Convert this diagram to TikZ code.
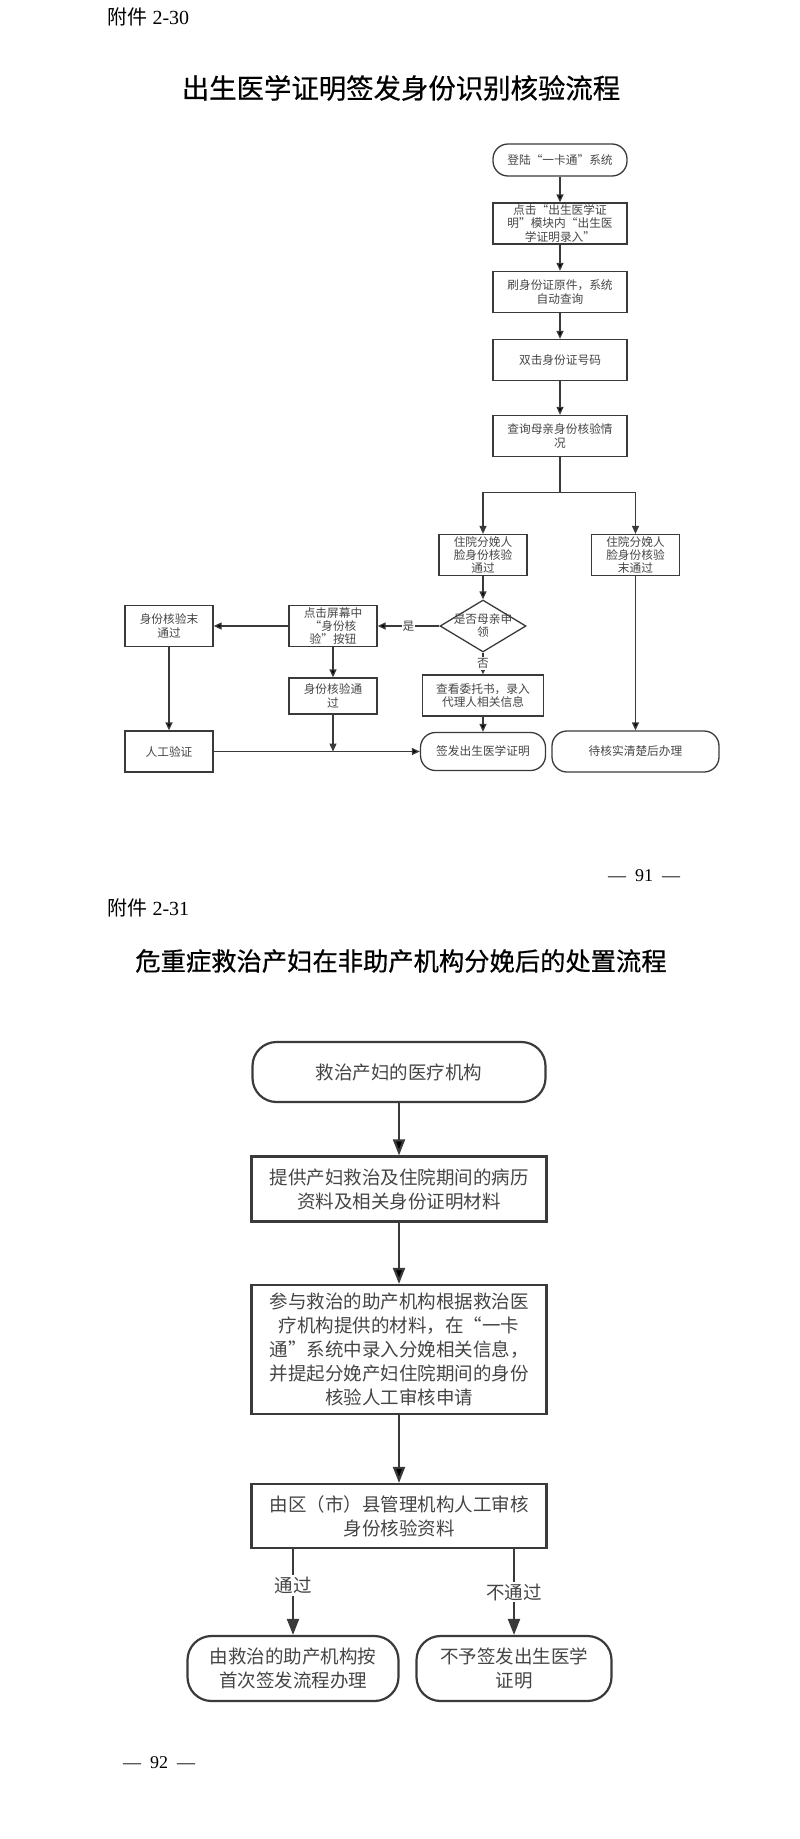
\documentclass[tikz,border=0pt]{standalone}
\usepackage{fontspec}
\setmainfont{Liberation Serif}
\newfontfamily\cjk{Noto Sans CJK SC}
\usetikzlibrary{arrows.meta,shapes.geometric}
\definecolor{linec}{HTML}{3A3A3A}
\definecolor{textc}{HTML}{454545}

\tikzset{
  box/.style={draw=linec, line width=1.3pt, rectangle, align=center, inner sep=1pt,
    text=textc, font=\cjk\fontsize{11.7}{13.3}\selectfont,
    minimum width=88pt, minimum height=41pt},
  pill/.style={box, rounded corners=15pt},
  ask/.style={box, diamond, inner sep=0pt, minimum width=86pt, minimum height=52pt},
  lbl/.style={fill=white, text=textc, inner sep=1pt, font=\cjk\fontsize{11.7}{13}\selectfont},
  flow/.style={draw=linec, line width=1.3pt, ->},
  bigbox/.style={draw=linec, line width=2.2pt, rectangle, align=center, inner sep=2pt,
    text=textc, font=\cjk\fontsize{18.5}{24}\selectfont,
    minimum width=295pt, minimum height=65pt},
  bigpill/.style={bigbox, rounded corners=24pt},
  biglbl/.style={fill=white, text=textc, inner sep=2pt, font=\cjk\fontsize{18.5}{22}\selectfont},
  bigflow/.style={draw=linec, line width=2.2pt, -{Triangle[length=16pt,width=12pt]}},
  heading/.style={font=\cjk\addfontfeature{FakeBold=0.6}\fontsize{#1}{#1}\selectfont},
  pageno/.style={font=\fontsize{18}{20}\selectfont},
}
\newcommand{\pagemark}[1]{—\hspace{9pt}#1\hspace{9pt}—}

\begin{document}
\begin{tikzpicture}[x=1pt, y=-1pt, >={Triangle[length=8pt,width=7pt]}, node distance=68pt]
  \useasboundingbox (0,0) rectangle (800,1839);

  % page 91
  \node[anchor=west, font=\fontsize{20}{22}\selectfont] (fj1) at (104,17) {{\cjk 附件} 2-30};
  \node[heading=27.4] (t1) at (401,88) {出生医学证明签发身份识别核验流程};

  \node[pill, minimum width=134pt, minimum height=32pt] (1) at (560,160) {登陆“一卡通”系统};
  \node[box, minimum width=134pt] (2) [below of=1, node distance=63.5pt] {点击“出生医学证\\明”模块内“出生医\\学证明录入”};
  \node[box, minimum width=134pt] (3) [below of=2, node distance=68.5pt] {刷身份证原件，系统\\自动查询};
  \node[box, minimum width=134pt] (4) [below of=3] {双击身份证号码};
  \node[box, minimum width=134pt] (5) [below of=4, node distance=76pt] {查询母亲身份核验情\\况};

  \node[box] (6) at (483,555) {住院分娩人\\脸身份核验\\通过};
  \node[box] (7) at (635.5,555) {住院分娩人\\脸身份核验\\末通过};
  \node[ask, label={[lbl, fill=none, align=center]center:是否母亲申\\领}] (8) [below of=6, node distance=71pt] {};
  \node[box] (9) at (333,626) {点击屏幕中\\“身份核\\验”按钮};
  \node[box] (10) at (169,626) {身份核验末\\通过};
  \node[box, minimum height=36pt] (11) [below of=9, node distance=70pt] {身份核验通\\过};
  \node[box, minimum width=121pt] (12) [below of=8, node distance=69.5pt] {查看委托书，录入\\代理人相关信息};
  \node[box] (13) at (169,751.5) {人工验证};
  \node[pill, minimum width=125pt, minimum height=38pt] (14) at (483,751.5) {签发出生医学证明};
  \node[pill, minimum width=167pt] (15) at (635.5,751.5) {待核实清楚后办理};

  \draw[flow] (1) edge (2)
              (2) edge (3)
              (3) edge (4)
              (4) edge (5)
              (6) edge (8)
              (8) edge node[lbl] {是} (9)
                  edge node[lbl] {否} (12)
              (9) edge (10)
                  edge (11)
              (10) edge (13)
              (12) edge (14)
              (13) edge (14)
              (7) edge (15);
  \draw[flow] (5.south) -- ++(0,35) -| (6.north);
  \draw[flow] (5.south) -- ++(0,35) -| (7.north);
  \draw[flow] (11.south) -- (11.south |- 13.east);

  \node[pageno] (p91) at (644,876) {\pagemark{91}};

  % page 92
  \node[anchor=west, font=\fontsize{20}{22}\selectfont] (fj2) at (104,908) {{\cjk 附件} 2-31};
  \node[heading=25.3] (t2) at (401,961) {危重症救治产妇在非助产机构分娩后的处置流程};

  \node[bigpill, minimum width=293pt, minimum height=60pt] (21) at (399,1072) {救治产妇的医疗机构};
  \node[bigbox] (22) at (399,1189) {提供产妇救治及住院期间的病历\\资料及相关身份证明材料};
  \node[bigbox, minimum height=129pt] (23) at (399,1349.5) {参与救治的助产机构根据救治医\\疗机构提供的材料，在“一卡\\通”系统中录入分娩相关信息，\\并提起分娩产妇住院期间的身份\\核验人工审核申请};
  \node[bigbox, minimum height=64pt] (24) at (399,1516) {由区（市）县管理机构人工审核\\身份核验资料};
  \node[bigpill, minimum width=211pt] (25) at (293,1668.5) {由救治的助产机构按\\首次签发流程办理};
  \node[bigpill, minimum width=195pt] (26) at (514,1668.5) {不予签发出生医学\\证明};

  \draw[bigflow] (21) edge (22)
                 (22) edge (23)
                 (23) edge (24);
  \draw[bigflow] (25.north |- 24.south) -- node[biglbl, pos=0.42] {通过} (25.north);
  \draw[bigflow] (26.north |- 24.south) -- node[biglbl, pos=0.5] {不通过} (26.north);

  \node[pageno] (p92) at (159,1763) {\pagemark{92}};
\end{tikzpicture}
\end{document}
